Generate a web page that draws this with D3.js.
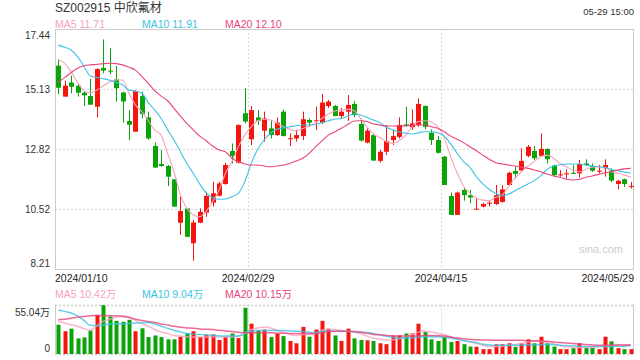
<!DOCTYPE html>
<html>
<head>
<meta charset="utf-8">
<script src="https://cdn.jsdelivr.net/npm/d3@7/dist/d3.min.js"></script>
<style>
  body { margin: 0; background: #fff; }
  svg text { font-family: "Liberation Sans", Arial, "Noto Sans CJK SC", sans-serif; }
</style>
</head>
<body>
<div id="kline"></div>
<script>
// trading days shown on the chart
var dates = [
  "2024/01/10","2024/01/11","2024/01/12","2024/01/15","2024/01/16","2024/01/17","2024/01/18","2024/01/19","2024/01/22","2024/01/23",
  "2024/01/24","2024/01/25","2024/01/26","2024/01/29","2024/01/30","2024/01/31","2024/02/01","2024/02/02","2024/02/05","2024/02/06",
  "2024/02/07","2024/02/08","2024/02/19","2024/02/20","2024/02/21","2024/02/22","2024/02/23","2024/02/26","2024/02/27","2024/02/28",
  "2024/02/29","2024/03/01","2024/03/04","2024/03/05","2024/03/06","2024/03/07","2024/03/08","2024/03/11","2024/03/12","2024/03/13",
  "2024/03/14","2024/03/15","2024/03/18","2024/03/19","2024/03/20","2024/03/21","2024/03/22","2024/03/25","2024/03/26","2024/03/27",
  "2024/03/28","2024/03/29","2024/04/01","2024/04/02","2024/04/03","2024/04/08","2024/04/09","2024/04/10","2024/04/11","2024/04/12",
  "2024/04/15","2024/04/16","2024/04/17","2024/04/18","2024/04/19","2024/04/22","2024/04/23","2024/04/24","2024/04/25","2024/04/26",
  "2024/04/29","2024/04/30","2024/05/06","2024/05/07","2024/05/08","2024/05/09","2024/05/10","2024/05/13","2024/05/14","2024/05/15",
  "2024/05/16","2024/05/17","2024/05/20","2024/05/21","2024/05/22","2024/05/23","2024/05/24","2024/05/27","2024/05/28","2024/05/29"
];

var open  = [16.03,14.84,15.38,15.26,14.99,14.86,14.45,15.94,15.84,15.50, 15.00,13.90,13.49,14.86,14.04,12.94,12.25,12.17,11.66,9.99,
             10.54,9.20,9.99,10.38,10.76,11.03,11.48,12.75,12.30,14.20, 13.20,14.04,13.53,13.62,13.36,14.26,13.22,13.23,13.32,13.94,
             13.91,13.84,14.48,14.48,14.09,14.26,14.56,13.79,13.07,13.36, 12.37,12.72,13.17,13.29,13.77,13.66,13.75,14.48,13.45,13.17,
             12.53,11.02,10.29,11.25,11.05,10.50,10.61,10.73,10.71,10.79, 11.44,11.98,12.00,12.56,12.75,12.56,12.83,12.19,11.81,11.85,
             11.91,11.89,12.27,12.17,11.95,12.08,12.01,11.48,11.66,11.39];
var high  = [16.27,15.45,15.65,15.35,15.03,15.52,15.93,17.04,16.70,16.02, 15.03,14.32,15.08,15.03,14.26,13.07,12.79,12.21,11.66,10.99,
             10.54,10.09,10.54,11.18,11.57,11.57,12.30,13.04,13.77,15.16, 14.48,14.32,14.26,13.94,14.04,14.35,13.43,13.56,14.26,14.00,
             14.45,14.94,14.71,14.52,14.40,14.90,14.67,14.00,13.62,13.43, 12.79,13.75,13.56,14.04,14.45,14.35,14.77,14.50,13.58,13.32,
             12.56,11.15,11.18,11.31,11.25,10.94,10.76,10.84,11.44,11.44, 11.95,12.14,12.85,12.98,12.94,13.43,12.85,12.22,12.01,12.04,
             12.21,12.40,12.43,12.27,12.21,12.43,12.08,11.64,11.69,11.56];
var low   = [14.93,14.84,14.97,14.84,14.48,14.53,14.04,15.74,15.70,14.65, 13.84,13.17,13.49,14.00,13.17,12.11,12.14,11.40,10.61,9.52,
             9.43,8.53,9.97,10.22,10.61,11.00,11.45,12.27,12.27,13.81, 12.98,13.75,13.11,13.23,13.32,13.32,12.94,13.11,13.17,13.68,
             13.56,13.79,14.40,14.09,14.00,13.91,14.04,13.11,13.04,12.38, 12.30,12.59,12.98,13.23,13.68,13.56,13.68,13.58,12.98,12.65,
             11.44,10.29,10.29,10.84,10.74,10.48,10.58,10.61,10.67,10.76, 11.40,11.69,11.95,12.51,12.40,12.56,12.27,11.76,11.76,11.69,
             11.87,11.72,12.17,11.95,11.89,11.76,11.56,11.28,11.36,11.30];
var close = [15.18,15.26,15.22,14.99,14.89,14.53,15.90,15.84,15.80,15.16, 14.65,13.76,15.06,14.17,13.23,12.11,12.17,11.76,10.61,10.44,
             9.45,10.00,10.41,11.02,11.12,11.50,12.21,12.56,13.75,13.88, 14.32,13.91,14.00,13.36,13.84,13.32,13.24,13.36,13.97,13.84,
             13.93,14.61,14.65,14.09,14.26,14.52,14.13,13.15,13.53,12.38, 12.72,13.13,13.32,13.75,13.71,13.81,14.56,13.68,13.17,12.68,
             11.44,10.29,11.15,11.05,10.96,10.53,10.71,10.76,11.05,11.27, 11.91,11.87,12.37,12.91,12.47,12.83,12.43,11.82,11.85,11.89,
             11.87,12.25,12.21,11.99,11.99,12.21,11.61,11.60,11.48,11.40];

var ma5  = [16.27,16.12,15.80,15.38,15.07,14.99,15.09,15.25,15.40,15.48, 15.48,14.97,14.52,14.26,13.91,13.55,13.36,12.66,11.95,11.06,
            10.54,10.29,10.22,10.43,10.80,11.24,11.89,12.34,12.91,13.36, 13.68,13.91,13.97,13.94,13.81,13.68,13.58,13.52,13.61,13.71,
            13.84,14.00,14.17,14.29,14.33,14.35,14.30,14.00,13.68,13.40, 13.27,13.11,13.04,13.14,13.36,13.68,13.88,13.91,13.86,13.68,
            13.27,12.53,11.91,11.40,11.12,10.93,10.86,10.84,10.97,11.06, 11.38,11.70,11.95,12.17,12.34,12.53,12.59,12.47,12.27,12.14,
            12.02,11.95,12.04,12.12,12.14,12.12,11.95,11.89,11.82,11.74];
var ma10 = [16.82,16.74,16.63,16.38,16.00,15.63,15.58,15.53,15.47,15.38, 15.29,15.09,15.05,14.97,14.61,14.33,14.00,13.56,13.17,12.72,
            12.27,11.89,11.48,11.14,10.95,10.89,10.90,10.99,11.12,11.57, 12.27,12.81,13.17,13.43,13.58,13.64,13.68,13.72,13.75,13.75,
            13.77,13.84,13.91,13.98,14.00,14.09,14.17,14.13,14.04,13.94, 13.84,13.66,13.56,13.49,13.43,13.40,13.45,13.49,13.49,13.45,
            13.32,13.02,12.66,12.34,12.12,11.76,11.48,11.27,11.12,11.02, 11.09,11.22,11.35,11.48,11.61,11.79,12.04,12.17,12.22,12.25,
            12.25,12.25,12.21,12.17,12.14,12.11,12.04,11.99,11.94,11.89];
var ma20 = [15.38,15.57,15.76,15.93,16.03,16.06,16.08,16.11,16.12,16.11, 16.06,15.97,15.86,15.61,15.35,15.07,14.86,14.68,14.39,14.09,
            13.81,13.56,13.32,13.14,12.94,12.79,12.72,12.47,12.34,12.25, 12.21,12.21,12.17,12.14,12.17,12.21,12.27,12.36,12.47,12.66,
            12.91,13.14,13.36,13.49,13.62,13.77,13.90,13.91,13.88,13.79, 13.75,13.71,13.71,13.71,13.72,13.73,13.75,13.75,13.68,13.62,
            13.49,13.32,13.20,13.07,12.91,12.76,12.59,12.43,12.30,12.25, 12.21,12.17,12.12,12.08,12.02,11.95,11.86,11.79,11.74,11.66,
            11.63,11.66,11.74,11.79,11.85,11.91,11.95,12.02,12.06,12.08];

// volume, in 万 shares
var volume = [32.6,25.3,28.2,17.4,18.5,26.1,43.5,54.3,41.6,36.9, 35.8,38.0,25.3,28.6,18.8,20.6,18.8,16.3,16.3,19.2,
              22.8,25.3,18.8,21.4,21.7,15.6,19.2,22.8,17.7,51.4, 33.7,26.4,27.2,18.8,22.8,19.9,14.5,11.9,30.1,19.2,
              27.2,36.9,27.9,20.6,14.5,28.2,17.4,15.6,15.2,14.5, 11.9,10.9,20.6,20.6,22.8,22.8,33.7,24.3,16.3,14.5,
              18.8,13.4,14.5,10.9,8.3,8.0,5.4,5.4,10.9,10.9, 11.9,8.0,11.9,16.3,11.9,19.2,11.9,8.3,5.4,5.4,
              6.5,11.9,6.9,6.9,5.4,19.2,14.1,6.5,5.4,5.4];
var volMa5  = [36.2,34.4,32.6,30.8,28.2,26.4,31.5,36.2,38.7,40.9, 42.4,40.9,37.3,33.7,30.8,27.2,24.3,22.8,20.6,19.9,
               19.2,18.8,18.8,18.8,18.8,18.8,18.8,18.8,19.9,22.8, 27.2,29.0,30.1,29.0,26.4,24.3,21.7,20.6,21.7,21.7,
               22.8,26.4,27.9,27.2,26.1,25.3,24.3,22.5,19.9,17.7, 16.3,15.6,15.9,17.0,19.2,21.4,24.3,25.3,24.6,22.8,
               21.4,19.2,17.0,15.2,13.4,11.6,9.8,8.3,8.3,8.7, 9.4,10.5,11.9,13.0,14.1,13.8,12.7,11.2,9.1,8.0,
               7.2,7.2,7.2,7.2,8.0,8.7,9.4,9.8,10.1,10.5];
var volMa10 = [48.9,47.4,45.6,42.4,37.3,31.9,31.5,32.2,33.3,33.7, 33.7,34.0,34.4,34.8,35.1,33.3,30.8,28.6,26.4,24.6,
               22.8,22.1,21.7,21.4,20.6,20.3,19.9,19.9,19.9,22.8, 25.7,26.1,26.1,26.1,26.1,26.1,25.7,25.3,25.0,24.3,
               23.5,25.3,25.3,25.3,25.3,25.3,24.6,24.3,23.9,22.8, 21.4,19.6,18.5,17.4,17.7,18.1,18.5,19.2,19.2,19.2,
               18.8,17.7,16.3,14.8,13.8,12.7,10.9,10.1,9.8,9.8, 9.8,9.8,9.8,10.1,10.1,10.5,10.5,10.5,9.8,9.4,
               9.1,8.7,8.3,8.3,8.3,8.3,8.3,8.7,8.7,9.1];
var volMa20 = [38.0,38.7,39.8,40.9,41.6,42.4,42.7,42.7,42.4,42.4, 41.6,40.6,38.7,37.3,36.2,35.1,33.3,32.2,30.8,29.7,
               29.0,28.6,27.9,27.5,27.2,26.4,25.7,25.0,24.3,23.5, 23.5,23.5,23.5,23.5,23.2,23.2,22.8,22.8,22.8,22.8,
               22.8,23.5,25.0,25.3,25.3,25.3,25.0,24.3,23.2,21.7, 21.4,20.6,20.3,19.9,19.9,19.9,20.3,20.6,20.6,20.3,
               19.9,18.8,17.7,17.0,16.3,15.9,15.6,15.6,15.2,15.2, 15.2,15.2,15.2,14.8,14.8,14.5,14.1,13.4,12.7,12.3,
               11.6,11.2,10.5,10.1,9.8,9.8,9.8,10.1,10.1,10.1];

var priceTicks = [17.44, 15.13, 12.82, 10.52, 8.21];
var volTicks = [55.04, 0];
var axisDates = ["2024/01/10", "2024/02/29", "2024/04/15", "2024/05/29"];
var maNames = ["MA5", "MA10", "MA20"];
var maLegend = ["11.71", "11.91", "12.10"];
var volLegend = ["10.42万", "9.04万", "10.15万"];

function drawKline(placement, w, h) {
    var margins = {top: 29, right: 6, left: 55};
    var priceBottom = 269, volTop = 304.5, volBottom = 354;
    var right = w - margins.right;
    var red = "#f5150f", green = "#0aa30a", gridColor = "#d8d8d8";
    var maColors = ["#f7a3bd", "#3cc3e3", "#e8457a"];

    var svg = d3.select(placement).append("svg")
        .attr("width", w).attr("height", h);

    var x = d3.scaleBand().domain(dates).range([margins.left, right]);
    var bw = x.bandwidth();
    var y = d3.scaleLinear().domain([8.21, 17.44]).range([priceBottom, margins.top]);
    var yv = d3.scaleLinear().domain([0, 55.04]).range([volBottom, volTop]);
    var idx = d3.range(dates.length);
    var up = function(i) { return close[i] >= open[i]; };

    // title and time
    svg.append("text").attr("x", margins.left).attr("y", 12)
        .attr("font-size", "12px").attr("fill", "#333")
        .text("SZ002915 中欣氟材");
    svg.append("text").attr("x", right).attr("y", 15)
        .attr("font-size", "9.5px").attr("fill", "#333").attr("text-anchor", "end")
        .text("05-29 15:00");

    // legends
    var legendX = [55, 142, 225];
    svg.selectAll(".ma-legend").data(maNames).enter().append("text")
        .attr("class", "ma-legend")
        .attr("x", function(d, i) { return legendX[i]; }).attr("y", 27.5)
        .attr("font-size", "10.5px").attr("fill", function(d, i) { return maColors[i]; })
        .text(function(d, i) { return d + " " + maLegend[i]; });
    svg.selectAll(".vol-legend").data(maNames).enter().append("text")
        .attr("class", "vol-legend")
        .attr("x", function(d, i) { return legendX[i]; }).attr("y", 298)
        .attr("font-size", "10.5px").attr("fill", function(d, i) { return maColors[i]; })
        .text(function(d, i) { return d + " " + volLegend[i]; });

    // grid
    svg.selectAll(".hgrid").data(priceTicks.slice(1, 4)).enter().append("line")
        .attr("x1", margins.left).attr("x2", right)
        .attr("y1", function(d) { return Math.round(y(d)) + 0.5; })
        .attr("y2", function(d) { return Math.round(y(d)) + 0.5; })
        .attr("stroke", gridColor).attr("stroke-dasharray", "2,2");
    var vg = [axisDates[1], axisDates[2]];
    [[margins.top, priceBottom], [volTop, volBottom]].forEach(function(r) {
        svg.selectAll(null).data(vg).enter().append("line")
            .attr("x1", function(d) { return Math.round(x(d)) + 0.5; })
            .attr("x2", function(d) { return Math.round(x(d)) + 0.5; })
            .attr("y1", r[0]).attr("y2", r[1])
            .attr("stroke", gridColor).attr("stroke-dasharray", "2,2");
    });

    // panel borders
    svg.append("rect").attr("x", margins.left + 0.5).attr("y", margins.top + 0.5)
        .attr("width", right - margins.left - 1).attr("height", priceBottom - margins.top)
        .attr("fill", "none").attr("stroke", "#ccc");
    [volTop, volBottom].forEach(function(v) {
        svg.append("line").attr("x1", margins.left).attr("x2", right)
            .attr("y1", Math.round(v) + 0.5).attr("y2", Math.round(v) + 0.5)
            .attr("stroke", "#ccc").attr("stroke-width", 1.5).attr("stroke-dasharray", "2,2");
    });
    [margins.left + 0.5, right - 0.5].forEach(function(xx) {
        svg.append("line").attr("x1", xx).attr("x2", xx)
            .attr("y1", volTop).attr("y2", volBottom).attr("stroke", "#ccc");
    });

    // watermark
    svg.append("text").attr("x", 623).attr("y", 253)
        .attr("font-size", "11px").attr("fill", "#ccc").attr("text-anchor", "end")
        .text("sina.com");

    // y axes
    var yAxis = svg.append("g").attr("transform", "translate(" + margins.left + ",0)")
        .call(d3.axisLeft(y).tickValues(priceTicks).tickSize(0).tickPadding(5)
            .tickFormat(d3.format(".2f")));
    yAxis.select(".domain").remove();
    yAxis.selectAll("text").attr("font-size", "10px").attr("fill", "#333")
        .attr("dy", function(d, i) { return i == 0 ? "0.95em" : (i == priceTicks.length - 1 ? "-0.3em" : "0.32em"); });

    var vAxis = svg.append("g").attr("transform", "translate(" + margins.left + ",0)")
        .call(d3.axisLeft(yv).tickValues(volTicks).tickSize(0).tickPadding(5)
            .tickFormat(function(d) { return d == 0 ? "0" : d3.format(".2f")(d) + "万"; }));
    vAxis.select(".domain").remove();
    vAxis.selectAll("text").attr("font-size", "10px").attr("fill", "#333")
        .attr("dy", function(d) { return d == 0 ? "-0.3em" : "1.05em"; });

    // date labels
    svg.selectAll(".date").data(axisDates).enter().append("text")
        .attr("class", "date")
        .attr("x", function(d, i) { return i == axisDates.length - 1 ? right : x(d); })
        .attr("y", 282)
        .attr("font-size", "10.5px").attr("fill", "#222")
        .attr("text-anchor", function(d, i) { return i == 0 ? "start" : (i == axisDates.length - 1 ? "end" : "middle"); })
        .text(function(d) { return d; });

    // candles
    var candle = svg.append("g").selectAll("g").data(idx).enter().append("g");
    candle.append("line")
        .attr("x1", function(i) { return Math.round(x(dates[i]) + bw / 2) + 0.5; })
        .attr("x2", function(i) { return Math.round(x(dates[i]) + bw / 2) + 0.5; })
        .attr("y1", function(i) { return y(high[i]); })
        .attr("y2", function(i) { return y(low[i]); })
        .attr("stroke", function(i) { return up(i) ? red : green; });
    candle.append("rect")
        .attr("x", function(i) { return Math.round(x(dates[i]) + bw / 2) - 2; })
        .attr("width", 5)
        .attr("y", function(i) { return y(Math.max(open[i], close[i])); })
        .attr("height", function(i) { return Math.max(1, Math.abs(y(open[i]) - y(close[i]))); })
        .attr("fill", function(i) { return up(i) ? red : green; });

    // volume bars
    svg.append("g").selectAll("rect").data(idx).enter().append("rect")
        .attr("x", function(i) { return Math.round(x(dates[i]) + bw / 2) - 1.5; })
        .attr("width", 4)
        .attr("y", function(i) { return yv(volume[i]); })
        .attr("height", function(i) { return volBottom - yv(volume[i]); })
        .attr("fill", function(i) { return up(i) ? red : green; });

    // moving averages
    function maLine(series, scale, color, width, opacity) {
        var line = d3.line()
            .x(function(i) { return x(dates[i]) + bw / 2; })
            .y(function(i) { return scale(series[i]); })
            .curve(d3.curveMonotoneX);
        svg.append("path").datum(idx)
            .attr("d", line).attr("fill", "none")
            .attr("stroke", color).attr("stroke-width", width).attr("stroke-opacity", opacity);
    }
    [ma5, ma10, ma20].forEach(function(s, k) { maLine(s, y, maColors[k], 1.1, 1); });
    [volMa5, volMa10, volMa20].forEach(function(s, k) { maLine(s, yv, maColors[k], 1.5, 0.8); });
}

drawKline("#kline", 640, 360);
</script>
</body>
</html>
